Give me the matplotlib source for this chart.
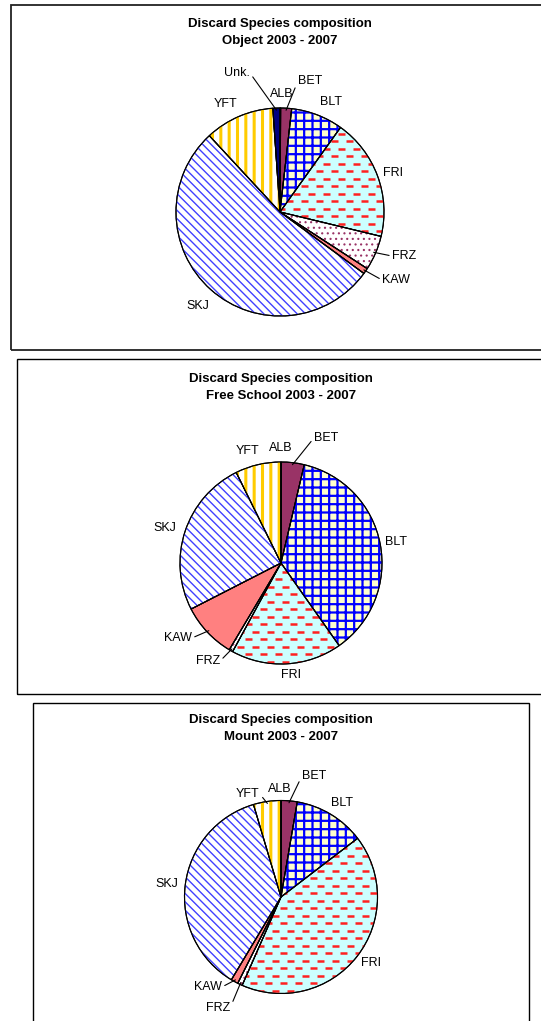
import numpy as np
import matplotlib
matplotlib.use('Agg')
import matplotlib.pyplot as plt
from matplotlib.patches import Wedge, Rectangle
from matplotlib.collections import LineCollection

plt.rcParams['font.family'] = ['Liberation Sans', 'DejaVu Sans']

# discard species composition (%), slices go clockwise from 12 o'clock
species = ['ALB', 'BET', 'BLT', 'FRI', 'FRZ', 'KAW', 'SKJ', 'YFT', 'Unk.']
object_pct = [0.1, 1.7, 8.1, 18.9, 5.4, 0.9, 53.1, 10.8, 1.1]
free_school_pct = [0.0, 3.7, 36.5, 17.7, 0.6, 8.9, 25.2, 7.3, 0.0]
mount_pct = [0.0, 2.7, 11.9, 42.0, 0.8, 1.2, 36.8, 4.6, 0.0]

title_top = 'Discard Species composition'
subtitles = ['Object 2003 - 2007', 'Free School 2003 - 2007', 'Mount 2003 - 2007']

# fill styles: (face, hatch, hatch colour, hatch width)
styles = {
    'ALB': ('#9999FF', None, None, 0),
    'BET': ('#993366', None, None, 0),
    'BLT': ('#FFFFCC', '++', '#0000FF', 1.6),
    'FRI': ('#CCFFFF', None, None, 0),
    'FRZ': ('#FFFFFF', '...', '#993366', 0.8),
    'KAW': ('#FF8080', None, None, 0),
    'SKJ': ('#FFFFFF', '\\\\\\\\', '#4040FF', 1.0),
    'YFT': ('#FFFFFF', '||', '#FFCC00', 2.2),
    'Unk.': ('#000080', None, None, 0),
}

W, H = 541, 1021
fig = plt.figure(figsize=(W / 100, H / 100), dpi=100)

# panel frames (pixels: x0, y0, x1, y1)
frames = [(11, 5, 560, 350), (17, 359, 560, 694), (33, 703, 529, 1040)]
for i, (x0, y0, x1, y1) in enumerate(frames):
    fig.add_artist(Rectangle((x0 / W, 1 - y1 / H), (x1 - x0) / W, (y1 - y0) / H,
                             transform=fig.transFigure, fill=False,
                             edgecolor='#222222' if i == 0 else 'black',
                             lw=1.3 if i == 0 else 1.0))

# pie centre / radius in pixels, title y positions
pies = [(280, 212, 104, 24), (281, 563, 101, 379), (281, 897, 96.5, 720)]

# label positions in pixels, and which end of the text the leader starts from
labels = [
    {'Unk.': ((237, 73), 'r'), 'BET': ((310, 81), 'l'), 'ALB': ((282, 94), None),
     'BLT': ((331, 102), None), 'YFT': ((226, 104), None), 'FRI': ((393, 173), None),
     'FRZ': ((404, 256), 'l'), 'KAW': ((396, 280), 'l'), 'SKJ': ((198, 306), None)},
    {'BET': ((326, 438), 'l'), 'ALB': ((281, 448), None), 'YFT': ((247, 451), None),
     'BLT': ((396, 542), None), 'SKJ': ((165, 528), None), 'KAW': ((178, 638), 'r'),
     'FRZ': ((208, 661), 'r'), 'FRI': ((291, 675), None)},
    {'BET': ((314, 776), 'l'), 'ALB': ((280, 789), None), 'YFT': ((248, 794), 'r'),
     'BLT': ((342, 803), None), 'SKJ': ((167, 884), None), 'FRI': ((371, 963), None),
     'KAW': ((208, 987), 'r'), 'FRZ': ((218, 1008), 'r')},
]

all_pct = [object_pct, free_school_pct, mount_pct]

for k, pct in enumerate(all_pct):
    cx, cy, R, ty = pies[k]
    fig.text(cx / W, 1 - ty / H, title_top, ha='center', va='center',
             fontsize=9.5, fontweight='bold')
    fig.text(cx / W, 1 - (ty + 17) / H, subtitles[k], ha='center', va='center',
             fontsize=9.5, fontweight='bold')

    half = 170
    ax = fig.add_axes([(cx - half) / W, 1 - (cy + half) / H, 2 * half / W, 2 * half / H])
    wedges, _ = ax.pie(pct, startangle=90, counterclock=False,
                       colors=[styles[s][0] for s in species],
                       wedgeprops=dict(edgecolor='black', linewidth=0.8))
    ax.set_xlim(-half / R, half / R)
    ax.set_ylim(-half / R, half / R)
    ax.axis('off')

    for s, w in zip(species, wedges):
        face, hatch, hc, hlw = styles[s]
        if hatch:
            with plt.rc_context({'hatch.linewidth': hlw}):
                hw = Wedge(w.center, w.r, w.theta1, w.theta2, facecolor='none',
                           edgecolor=hc, linewidth=0, hatch=hatch)
            if hasattr(hw, 'set_hatch_linewidth'):
                hw.set_hatch_linewidth(hlw)
            ax.add_patch(hw)
        if s == 'FRI':
            # red dash texture
            segs = []
            rows = np.arange(-1.05, 1.05, 7.5 / R)
            for i, yy in enumerate(rows):
                off = (i % 2) * 7.5 / R
                for xx in np.arange(-1.1 + off, 1.1, 15 / R):
                    segs.append([(xx, yy), (xx + 7 / R, yy)])
            lc = LineCollection(segs, colors='#FF2020', linewidths=1.8, capstyle='butt')
            ax.add_collection(lc)
            lc.set_clip_path(w)
        ax.add_patch(Wedge(w.center, w.r, w.theta1, w.theta2, facecolor='none',
                           edgecolor='black', linewidth=0.8, zorder=3))

    for s, w in zip(species, wedges):
        if s not in labels[k]:
            continue
        (px, py), side = labels[k][s]
        tx, ty_ = (px - cx) / R, (cy - py) / R
        if side is None:
            ax.text(tx, ty_, s, ha='center', va='center', fontsize=9, zorder=5)
        else:
            mid = np.deg2rad((w.theta1 + w.theta2) / 2)
            rim = (0.98 * np.cos(mid), 0.98 * np.sin(mid))
            ax.annotate(s, xy=rim, xytext=(tx, ty_), ha='center', va='center',
                        fontsize=9, zorder=5, annotation_clip=False,
                        arrowprops=dict(arrowstyle='-', lw=0.8, color='black',
                                        shrinkA=0, shrinkB=0,
                                        relpos=(1, 0.5) if side == 'r' else (0, 0.5)))

fig.savefig('out.png', dpi=100)
